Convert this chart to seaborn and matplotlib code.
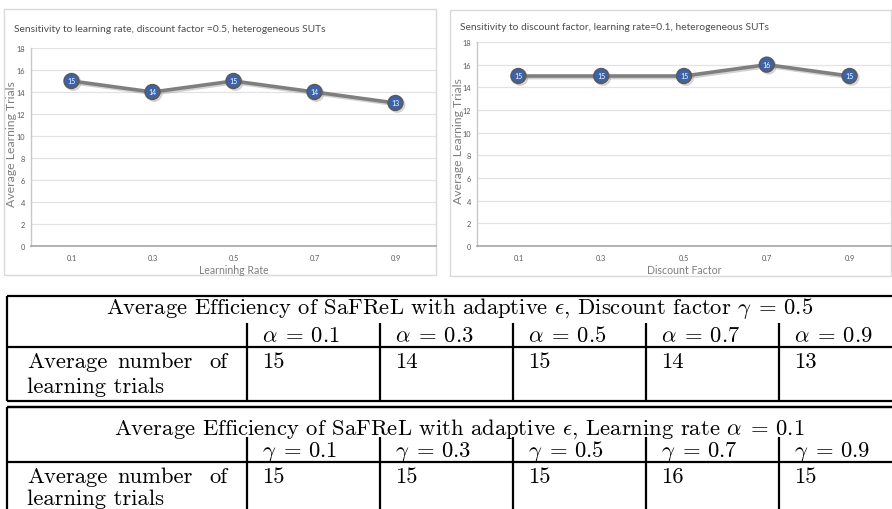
import matplotlib
matplotlib.use("Agg")
import matplotlib.pyplot as plt
import matplotlib.patheffects as pe
from matplotlib.patches import Rectangle
import seaborn as sns
import pandas as pd

# ---------------- data ----------------
rates = ["0.1", "0.3", "0.5", "0.7", "0.9"]
trials_vs_lr = [15, 14, 15, 14, 13]
discounts = ["0.1", "0.3", "0.5", "0.7", "0.9"]
trials_vs_df = [15, 15, 15, 16, 15]
y_ticks = [0, 2, 4, 6, 8, 10, 12, 14, 16, 18]

title_left = "Sensitivity to learning rate, discount factor =0.5, heterogeneous SUTs"
title_right = "Sensitivity to discount factor, learning rate=0.1, heterogeneous SUTs"
xlabel_left = "Learninhg Rate"
xlabel_right = "Discount Factor"
ylabel = "Average Learning Trials"

table1_title = r"Average Efficiency of SaFReL with adaptive $\epsilon$, Discount factor $\gamma\;=\,0.5$"
table2_title = r"Average Efficiency of SaFReL with adaptive $\epsilon$, Learning rate $\alpha\;=\,0.1$"
table1_headers = [r"$\alpha\;=\,0.1$", r"$\alpha\;=\,0.3$", r"$\alpha\;=\,0.5$", r"$\alpha\;=\,0.7$", r"$\alpha\;=\,0.9$"]
table2_headers = [r"$\gamma\;=\,0.1$", r"$\gamma\;=\,0.3$", r"$\gamma\;=\,0.5$", r"$\gamma\;=\,0.7$", r"$\gamma\;=\,0.9$"]
row_label_words = ["Average", "number", "of"]
row_label_line2 = "learning trials"

# ---------------- style ----------------
sns.set_theme(style="white")
plt.rcParams["font.family"] = ["Lato", "DejaVu Sans"]
plt.rcParams["mathtext.fontset"] = "cm"

W, H = 892, 510
fig = plt.figure(figsize=(W / 100, H / 100), dpi=100)
fig.patch.set_facecolor("white")

def fx(px):
    return px / W

def fy(py):
    return (H - py) / H

# chart frames (Excel chart area)
for (x0, y0, x1, y1) in [(4, 10, 436, 276), (450, 11, 891, 277)]:
    fig.add_artist(Rectangle((fx(x0), fy(y1)), fx(x1 - x0), (y1 - y0) / H,
                             transform=fig.transFigure, facecolor="white",
                             edgecolor="#D9D9D9", lw=1.0, zorder=0))

TXT = "#595959"

def draw_chart(rect, cats, vals, xlabel, title, title_xy, xlabel_y, ylabel_x):
    ax = fig.add_axes(rect)
    df = pd.DataFrame({"x": cats, "y": vals})
    sns.lineplot(data=df, x="x", y="y", ax=ax, sort=False, color="#7F7F7F",
                 lw=2.6, marker="o", markersize=10.5, markerfacecolor="#3B63AD",
                 markeredgecolor="#5A5A5A", markeredgewidth=1.3,
                 path_effects=[pe.SimpleLineShadow(offset=(1.2, -1.2), shadow_color="#808080", alpha=0.35),
                               pe.Normal()])
    for i, v in enumerate(vals):
        ax.text(i, v, str(v), ha="center", va="center", color="white",
                fontsize=5, zorder=10)
    ax.set_xlim(-0.5, len(cats) - 0.5)
    ax.set_ylim(0, 18)
    ax.set_yticks(y_ticks)
    ax.set_yticklabels([str(t) for t in y_ticks])
    ax.grid(axis="y", color="#E3E3E3", lw=0.9)
    ax.grid(axis="x", visible=False)
    ax.set_axisbelow(True)
    for s in ["top", "right"]:
        ax.spines[s].set_visible(False)
    ax.spines["left"].set_color("#C8C8C8")
    ax.spines["left"].set_linewidth(1.0)
    ax.spines["bottom"].set_color("#A6A6A6")
    ax.spines["bottom"].set_linewidth(1.2)
    ax.tick_params(axis="both", length=0, labelsize=5.3, colors=TXT)
    ax.tick_params(axis="y", pad=4.3)
    ax.tick_params(axis="x", pad=5.5)
    ax.set_xlabel("")
    ax.set_ylabel("")
    ax.set_facecolor("none")
    fig.text(fx(title_xy[0]), fy(title_xy[1]), title, fontsize=7.4, color="#4D4D4D",
             ha="left", va="center")
    fig.text(rect[0] + rect[2] * 0.5, fy(xlabel_y), xlabel, fontsize=7.6,
             color="#7F7F7F", ha="center", va="center")
    fig.text(fx(ylabel_x), rect[1] + rect[3] * 0.52, ylabel, fontsize=8.8,
             color="#7F7F7F", ha="center", va="center", rotation=90)
    return ax

draw_chart([fx(31), fy(247), fx(436 - 31), (247 - 49) / H], rates, trials_vs_lr,
           xlabel_left, title_left, (14, 30), 270, 12)
draw_chart([fx(477), fy(247), fx(891 - 477), (247 - 43) / H], discounts, trials_vs_df,
           xlabel_right, title_right, (460, 27), 270, 458)

# ---------------- tables ----------------
tax = fig.add_axes([0, 0, 1, 1])
tax.set_xlim(0, W)
tax.set_ylim(H, 0)
tax.axis("off")
tax.patch.set_alpha(0)

LW = 1.6
CM = "cmr10"
FS = 16.3
x_left = 7
x_right = 912
col_x = [247, 380, 513, 646, 779]

def hline(y, x0=x_left, x1=x_right):
    tax.plot([x0, x1], [y, y], color="black", lw=LW, solid_capstyle="butt", clip_on=False)

def vline(x, y0, y1):
    tax.plot([x, x], [y0, y1], color="black", lw=LW, solid_capstyle="butt", clip_on=False)

def draw_table(top, head_top, sep, bottom, title, headers, values, title_y, head_y, row1_y, row2_y):
    hline(top)
    hline(sep)
    vline(x_left, top, bottom)
    for cx in col_x:
        vline(cx, head_top, bottom)
    tax.text((x_left + x_right) / 2, title_y, title, family=CM, fontsize=FS,
             ha="center", va="center", color="black")
    for cx, h in zip(col_x, headers):
        tax.text(cx + 15, head_y, h, family=CM, fontsize=FS, ha="left",
                 va="center", color="black")
    for cx, v in zip(col_x, values):
        tax.text(cx + 15, row1_y, str(v), family=CM, fontsize=FS, ha="left",
                 va="center", color="black")
    for wx, w in zip([27, 117, 209], row_label_words):
        tax.text(wx, row1_y, w, family=CM, fontsize=FS, ha="left", va="center",
                 color="black")
    tax.text(27, row2_y, row_label_line2, family=CM, fontsize=FS, ha="left",
             va="center", color="black")

draw_table(297, 324, 348, 402, table1_title, table1_headers, trials_vs_lr,
           309, 336, 362, 387)
hline(402)
hline(408)
draw_table(408, 438, 463, 515, table2_title, table2_headers, trials_vs_df,
           429, 452, 477, 499)

fig.savefig("out.png", dpi=100, facecolor="white")
